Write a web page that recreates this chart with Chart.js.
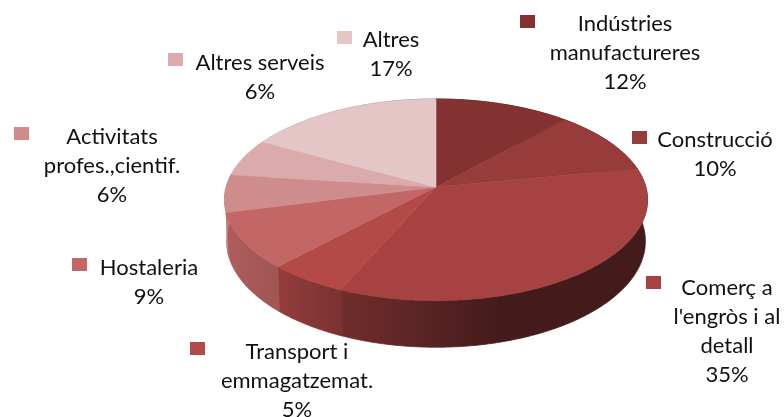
<!DOCTYPE html>
<html>
<head>
<meta charset="utf-8">
<style>html,body{margin:0;padding:0;background:#fff}#wrap{width:784px;height:417px;position:relative}</style>
<script src="https://cdn.jsdelivr.net/npm/chart.js@4"></script>
</head>
<body>
<div id="wrap"><canvas id="c" width="784" height="417"></canvas></div>
<script>
const categories = ['Indústries manufactureres','Construcció',"Comerç a l'engròs i al detall",'Transport i emmagatzemat.','Hostaleria','Activitats profes.,cientif.','Altres serveis','Altres'];
const categoryLines = [['Indústries','manufactureres'],['Construcció'],['Comerç a',"l'engròs i al",'detall'],['Transport i','emmagatzemat.'],['Hostaleria'],['Activitats','profes.,cientif.'],['Altres serveis'],['Altres']];
const shares = [11.7,10.3,34.6,5.4,9,6,6,17];
const colours = ['#843231','#983b3b','#a74242','#b34a48','#c26766','#cf8c8c','#dbabac','#e4c6c7'];

// label layout: text centre x, first baseline, marker x, marker y
const labelLayout = [
  {cx:625,y:31,mx:520,my:15},
  {cx:715,y:147,mx:632,my:131},
  {cx:727,y:295,mx:646,my:276},
  {cx:297,y:359,mx:190,my:342},
  {cx:149,y:275,mx:72,my:258},
  {cx:112,y:144,mx:14,my:127},
  {cx:260,y:70,mx:168,my:53},
  {cx:391,y:47,mx:337,my:31}
];
const lineHeight = 29;
const textFont = '22px Lato';

// projection of the library's circular pie onto a tilted disc
const persp = 0.127, stretchX = 1.122, stretchY = 0.5305, depthK = 0.2176;
// side lighting: horizontal position -> brightness
const lightStops = [[0,.90],[.125,.83],[.276,.68],[.65,.41],[1,.41]];
const wallLeft = 223, wallRight = 648;

function shade(hex,f){
  const n=parseInt(hex.slice(1),16);
  return `rgb(${Math.round((n>>16&255)*f)},${Math.round((n>>8&255)*f)},${Math.round((n&255)*f)})`;
}
function project(arc,angle){
  const c=Math.cos(angle), s=Math.sin(angle), w=1-persp*s, r=arc.outerRadius;
  return {x:arc.x+r*stretchX*c/w, y:arc.y+r*stretchY*s/w, d:r*depthK/w};
}
function samples(arc){
  const n=Math.max(2,Math.ceil((arc.endAngle-arc.startAngle)/0.01)), pts=[];
  for(let i=0;i<=n;i++) pts.push(project(arc,arc.startAngle+(arc.endAngle-arc.startAngle)*i/n));
  return pts;
}
const disc3d = {
  id:'disc3d',
  beforeDatasetsDraw(chart){
    const ctx=chart.ctx, arcs=chart.getDatasetMeta(0).data;
    ctx.save();
    // side walls
    arcs.forEach((arc,i)=>{
      const pts=samples(arc);
      const g=ctx.createLinearGradient(wallLeft,0,wallRight,0);
      lightStops.forEach(([p,f])=>g.addColorStop(p,shade(colours[i],f)));
      ctx.beginPath();
      pts.forEach((p,k)=>k?ctx.lineTo(p.x,p.y):ctx.moveTo(p.x,p.y));
      for(let k=pts.length-1;k>=0;k--){
        const p=pts[k];
        ctx.lineTo(arc.x+(p.x-arc.x)*0.99,p.y+p.d);
      }
      ctx.closePath();
      ctx.fillStyle=g; ctx.strokeStyle=g; ctx.lineWidth=0.8;
      ctx.fill(); ctx.stroke();
    });
    // top faces
    arcs.forEach((arc,i)=>{
      const pts=samples(arc);
      ctx.beginPath();
      ctx.moveTo(arc.x,arc.y);
      pts.forEach(p=>ctx.lineTo(p.x,p.y));
      ctx.closePath();
      ctx.fillStyle=colours[i]; ctx.strokeStyle=colours[i]; ctx.lineWidth=0.6;
      ctx.fill(); ctx.stroke();
    });
    ctx.restore();
    return false;
  },
  afterDraw(chart){
    const ctx=chart.ctx;
    ctx.save();
    ctx.font=textFont; ctx.textAlign='center'; ctx.textBaseline='alphabetic';
    categoryLines.forEach((lines,i)=>{
      const l=labelLayout[i];
      ctx.fillStyle=colours[i];
      ctx.fillRect(l.mx,l.my,15,13);
      ctx.fillStyle='#111';
      lines.concat(Math.round(shares[i])+'%').forEach((t,k)=>ctx.fillText(t,l.cx,l.y+k*lineHeight));
    });
    ctx.restore();
  }
};
new Chart(document.getElementById('c'),{
  type:'pie',
  data:{labels:categories,datasets:[{data:shares,backgroundColor:colours,borderWidth:0}]},
  options:{
    responsive:false,animation:false,
    layout:{padding:{left:88,right:0,top:0,bottom:43}},
    plugins:{legend:{display:false},tooltip:{enabled:false}}
  },
  plugins:[disc3d]
});
</script>
</body>
</html>
